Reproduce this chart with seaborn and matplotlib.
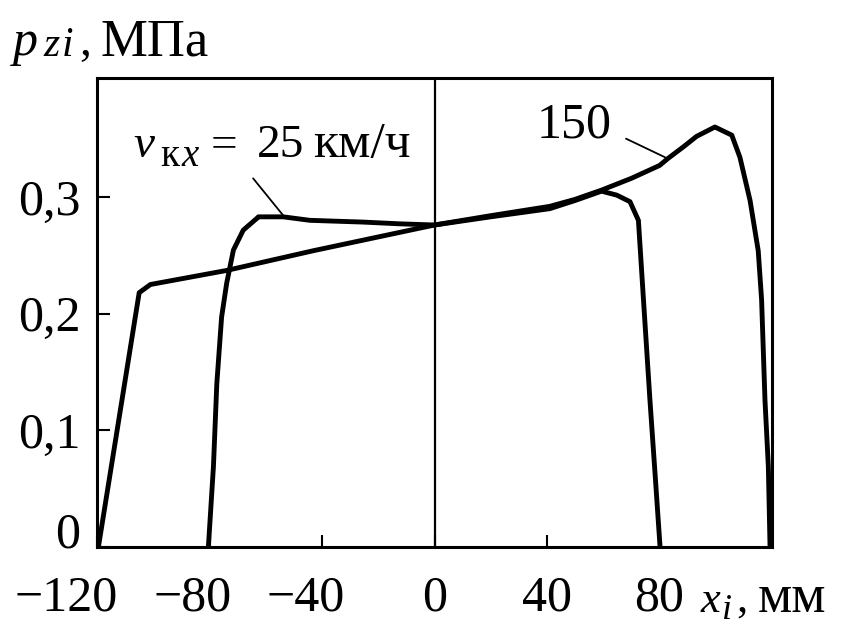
import numpy as np
import pandas as pd
import seaborn as sns
import matplotlib
matplotlib.use("Agg")
import matplotlib.pyplot as plt
import matplotlib.transforms as mtransforms

# ---- data ----
x_150 = [-119.5, -105.0, -101.0, -74.0, -43.0, 0.0, 20.0, 41.0, 50.0, 59.5, 70.0,
         80.0, 83.0, 88.5, 93.2, 99.7, 105.7, 108.6, 112.2, 115.1, 116.3, 117.5, 118.7, 119.3]
y_150 = [0.0, 0.218, 0.225, 0.237, 0.254, 0.276, 0.284, 0.292, 0.298, 0.306, 0.316,
         0.327, 0.333, 0.343, 0.352, 0.360, 0.353, 0.334, 0.297, 0.254, 0.212, 0.126, 0.069, 0.0]

x_25 = [-80.4, -78.6, -77.4, -75.7, -73.9, -71.5, -68.0, -63.2, -62.6, -53.8, -44.3,
        -25.4, -12.3, 0.0, 20.0, 41.0, 50.0, 59.4, 64.8, 69.5, 72.5, 74.3, 76.6, 78.5, 80.2]
y_25 = [0.0, 0.069, 0.140, 0.197, 0.226, 0.2545, 0.2716, 0.2816, 0.283, 0.283, 0.280,
        0.2785, 0.277, 0.276, 0.283, 0.290, 0.297, 0.305, 0.3016, 0.296, 0.280, 0.212, 0.126, 0.06, 0.0]

x_ticks = [-120, -80, -40, 0, 40, 80]
x_tick_labels = ["\u2212120", "\u221280", "\u221240", "0", "40", "80"]
y_ticks = [0.0, 0.1, 0.2, 0.3]
y_tick_labels = ["0", "0,1", "0,2", "0,3"]

df = pd.concat([
    pd.DataFrame({"x": x_150, "p": y_150, "v": "150"}),
    pd.DataFrame({"x": x_25, "p": y_25, "v": "25"}),
], ignore_index=True)

# ---- style ----
sns.set_theme(style="white")
plt.rcParams["font.family"] = ["Liberation Serif", "DejaVu Serif"]
plt.rcParams["axes.unicode_minus"] = True

W, H = 848, 628
fig = plt.figure(figsize=(W / 100, H / 100), dpi=100)
ax = fig.add_axes([97 / W, 81 / H, 675 / W, 469 / H])

for v in ["150", "25"]:
    sns.lineplot(data=df[df["v"] == v], x="x", y="p", sort=False, estimator=None,
                 color="black", lw=3.5, ax=ax, legend=False)

ax.axvline(0, color="black", lw=1.6)

ax.set_xlim(-120, 120)
ax.set_ylim(0, 0.402)
ax.set_xlabel("")
ax.set_ylabel("")

for s in ax.spines.values():
    s.set_color("black")
    s.set_linewidth(2.2)

ax.set_xticks(x_ticks)
ax.set_xticklabels(x_tick_labels, fontsize=36)
ax.set_yticks(y_ticks)
ax.set_yticklabels(y_tick_labels, fontsize=36)
ax.tick_params(axis="x", direction="in", length=9, width=1.5, pad=20, colors="black",
               bottom=True, top=False)
ax.tick_params(axis="y", direction="in", length=9, width=1.5, pad=12, colors="black",
               left=True, right=False)

# shift negative x labels so the digits center on the tick
offsets = {0: -22, 1: -12, 2: -12}
for i, lab in enumerate(ax.get_xticklabels()):
    if i in offsets:
        lab.set_transform(lab.get_transform() +
                          mtransforms.ScaledTranslation(offsets[i] / 72, 0, fig.dpi_scale_trans))
ax.get_yticklabels()[0].set_va("baseline")


def put(x_px, base_px, s, size, style="normal"):
    fig.text(x_px / W, (H - base_px) / H, s, fontsize=size, style=style,
             ha="left", va="baseline", color="black")


# curve labels
put(133, 157, "v", 34, "italic")
put(160, 166, "к", 28)
put(181, 166, "x", 28, "italic")
put(211, 157, "=", 34)
put(257, 157, "25", 34)
put(313, 157, "км/ч", 37)
ax.plot([-64.5, -53.9], [0.316, 0.2845], color="black", lw=1.3)

ax.text(49.6, 0.351, "150", fontsize=36, ha="center", va="baseline", color="black")
ax.plot([68.1, 82.0], [0.350, 0.334], color="black", lw=1.3)

# axis titles
put(13, 55, "p", 36, "italic")
put(43, 56, "z", 30, "italic")
put(62, 56, "i", 30, "italic")
put(79, 55, ",", 34)
put(100, 55, "МПа", 38)

put(701, 612, "x", 32, "italic")
put(722, 619, "i", 26, "italic")
put(736, 612, ",", 32)
put(758, 612, "мм", 39)

fig.savefig("out.png", dpi=100, facecolor="white")
